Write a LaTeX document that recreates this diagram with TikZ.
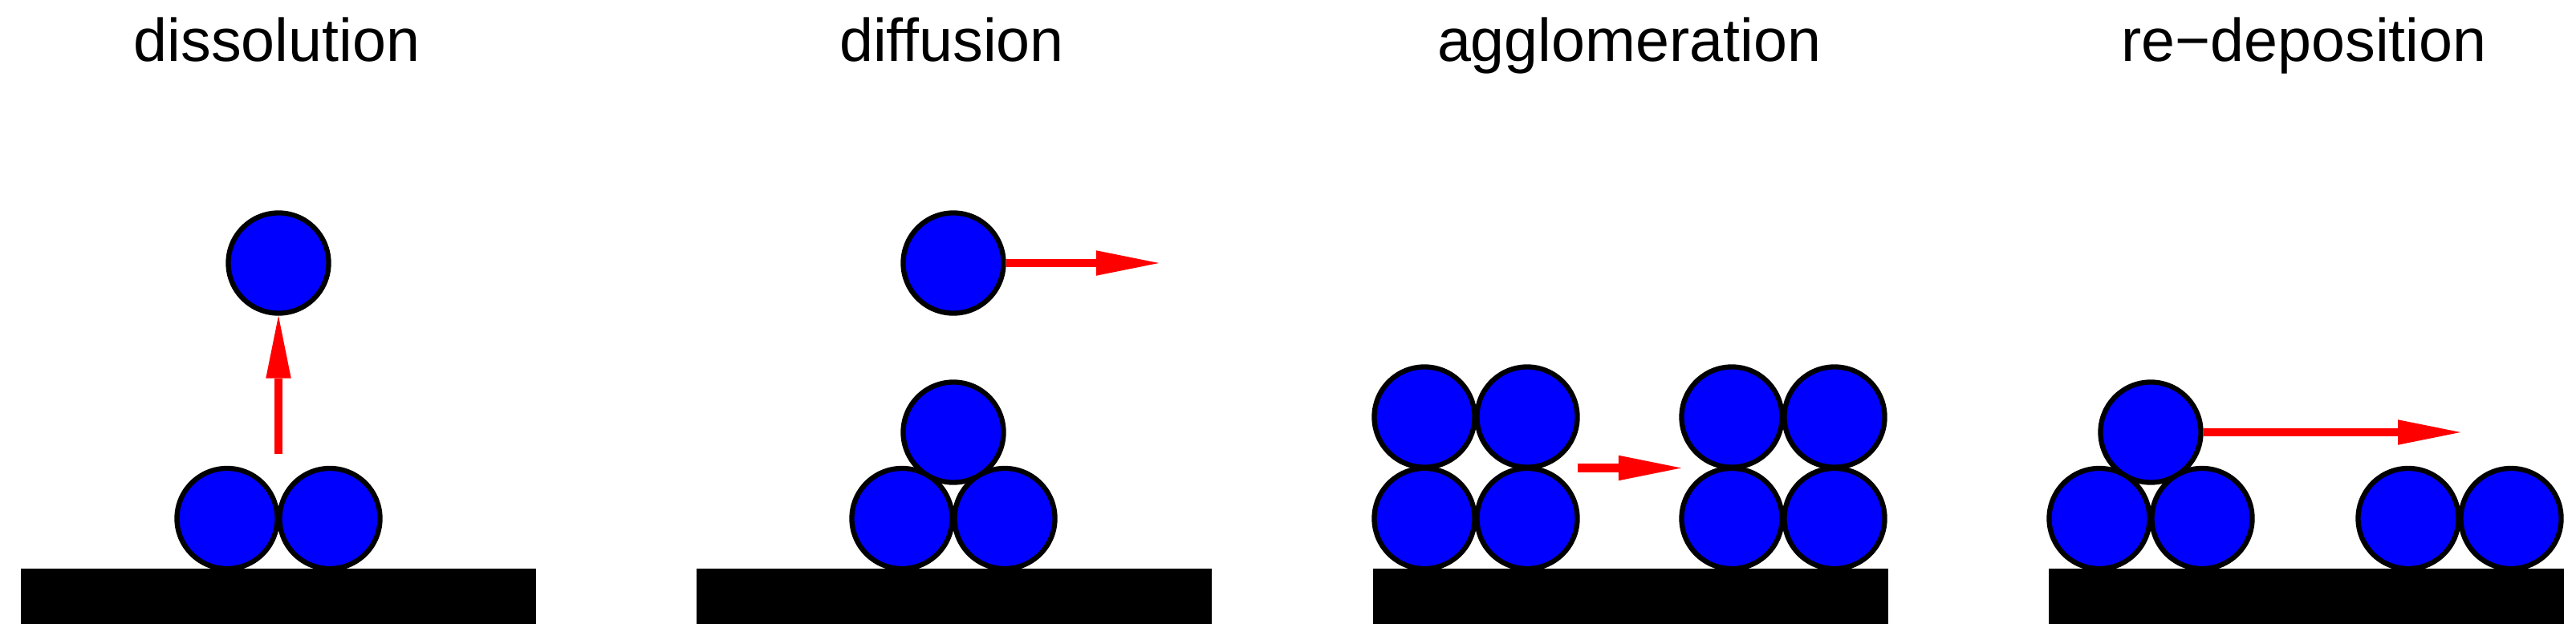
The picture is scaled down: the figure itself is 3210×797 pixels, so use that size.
\documentclass[tikz,border=0pt]{standalone}
\usepackage{fontspec}
\setmainfont{Liberation Sans}
\usetikzlibrary{arrows.meta}
\tikzset{
    sphere/.style={circle, draw=black, fill=blue, line width=0.063cm, minimum size=1.25cm, inner sep=0pt},
    move/.style={draw=red, line width=0.107cm, -{Triangle[length=0.78cm, width=0.315cm, line width=0pt]}},
    heading/.style={anchor=base, inner sep=0pt, font=\fontsize{21.45}{25}\selectfont},
}
\begin{document}
\begin{tikzpicture}[x=0.01cm, y=-0.01cm]
    \useasboundingbox (0,0) rectangle (3210,797);
    % titles
    \node[heading] (T1) at (345,77) {dissolution};
    \node[heading] (T2) at (1186,77) {diffusion};
    \node[heading] (T3) at (2030,77) {agglomeration};
    \node[heading] (T4) at (2871,77) {re−deposition};
    % dissolution
    \node[sphere] (A1) at (347,328) {};
    \node[sphere] (A2) at (283,646.5) {};
    \node[sphere] (A3) at (411,646.5) {};
    \coordinate (Astart) at (347,566);
    \draw[move] (Astart) -- (A1.south);
    % diffusion
    \node[sphere] (B1) at (1188,328) {};
    \node[sphere] (B2) at (1188,539) {};
    \node[sphere] (B3) at (1124,646.5) {};
    \node[sphere] (B4) at (1252,646.5) {};
    \coordinate (Bend) at (1444,328);
    \draw[move] (B1.east) -- (Bend);
    % agglomeration
    \foreach \y in {520,646.5} {
        \foreach \x in {1775,1903,2158,2286} {
            \node[sphere] (C\x-\y) at (\x,\y) {};
        }
    }
    \coordinate (Cstart) at (1966,583.5);
    \coordinate (Cend) at (2095,583.5);
    \draw[move] (Cstart) -- (Cend);
    % re-deposition
    \node[sphere] (D1) at (2680,539) {};
    \foreach \x in {2616,2744,3001,3129} {
        \node[sphere] (D\x) at (\x,646.5) {};
    }
    \coordinate (Dend) at (3066,539);
    \draw[move] (D1.east) -- (Dend);
    % substrates
    \foreach \x in {26,868,1711,2553} {
        \fill[black] (\x,709) rectangle ++(642,69);
    }
\end{tikzpicture}
\end{document}
